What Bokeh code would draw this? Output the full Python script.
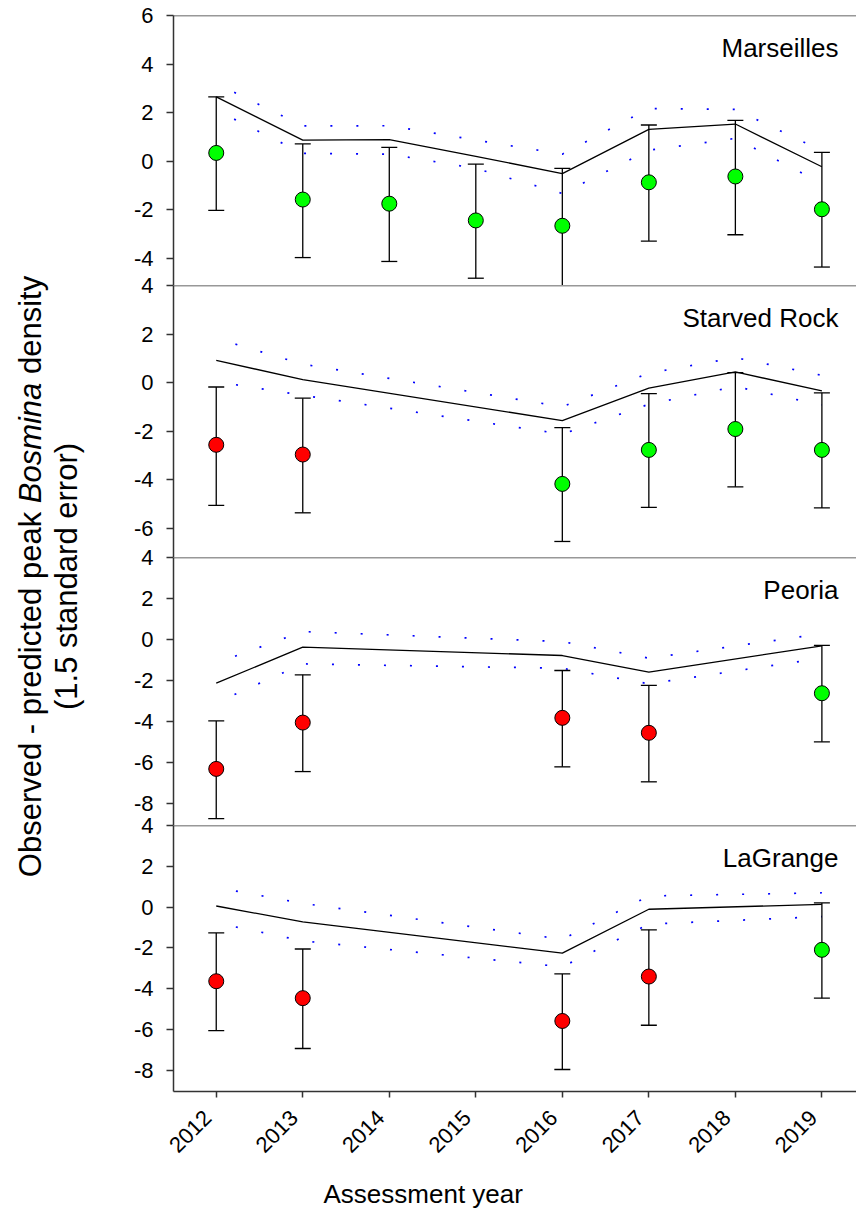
import math
from bokeh.plotting import figure
from bokeh.models import Range1d, FixedTicker, Span, Label, Title
from bokeh.layouts import column, row
from bokeh.embed import file_html
from bokeh.resources import INLINE

FONT = "Liberation Sans"

# ---------------- data ----------------
sites = ["Marseilles", "Starved Rock", "Peoria", "LaGrange"]
tick_years = [2012, 2013, 2014, 2015, 2016, 2017, 2018, 2019]

mars_years = [2012, 2013, 2014, 2015, 2016, 2017, 2018, 2019]
mars_obs = [0.34, -1.58, -1.75, -2.44, -2.66, -0.87, -0.63, -1.98]
mars_hi = [2.65, 0.71, 0.57, -0.12, -0.30, 1.49, 1.68, 0.36]
mars_lo = [-2.03, -3.97, -4.13, -4.82, -5.15, -3.29, -3.03, -4.36]
mars_pred = [2.65, 0.87, 0.89, 0.20, -0.51, 1.31, 1.53, -0.23]
mars_upper = [3.20, 1.45, 1.46, 0.87, 0.29, 2.17, 2.13, 0.43]
mars_lower = [2.10, 0.32, 0.29, -0.30, -1.33, 0.45, 0.94, -0.92]
mars_status = ["in", "in", "in", "in", "in", "in", "in", "in"]

star_years = [2012, 2013, 2016, 2017, 2018, 2019]
star_obs = [-2.56, -2.96, -4.17, -2.77, -1.91, -2.77]
star_hi = [-0.18, -0.64, -1.85, -0.45, 0.41, -0.42]
star_lo = [-5.05, -5.36, -6.54, -5.14, -4.29, -5.16]
star_pred = [0.92, 0.12, -1.56, -0.23, 0.44, -0.34]
star_upper = [1.82, 0.76, -0.99, 0.39, 1.03, 0.30]
star_lower = [0.04, -0.52, -2.12, -0.89, -0.16, -0.92]
star_status = ["out", "out", "in", "in", "in", "in"]

peor_years = [2012, 2013, 2016, 2017, 2019]
peor_obs = [-6.31, -4.05, -3.82, -4.55, -2.62]
peor_hi = [-3.97, -1.72, -1.51, -2.24, -0.29]
peor_lo = [-8.73, -6.44, -6.21, -6.94, -4.99]
peor_pred = [-2.13, -0.37, -0.78, -1.59, -0.31]
peor_upper = [-1.15, 0.39, -0.10, -0.91, 0.28]
peor_lower = [-3.08, -1.19, -1.40, -2.16, -0.91]
peor_status = ["out", "out", "out", "out", "in"]

lagr_years = [2012, 2013, 2016, 2017, 2019]
lagr_obs = [-3.64, -4.47, -5.59, -3.41, -2.10]
lagr_hi = [-1.27, -2.06, -3.28, -1.12, 0.20]
lagr_lo = [-6.06, -6.94, -7.97, -5.80, -4.47]
lagr_pred = [0.05, -0.73, -2.26, -0.11, 0.13]
lagr_upper = [0.96, 0.18, -1.58, 0.54, 0.70]
lagr_lower = [-0.78, -1.66, -2.93, -0.84, -0.47]
lagr_status = ["out", "out", "out", "out", "in"]

y_ticks = [[-4, -2, 0, 2, 4, 6], [-6, -4, -2, 0, 2, 4],
           [-8, -6, -4, -2, 0, 2, 4], [-8, -6, -4, -2, 0, 2, 4]]

# ---------------- layout / style ----------------
panels_data = [
    (mars_years, mars_obs, mars_hi, mars_lo, mars_pred, mars_upper, mars_lower, mars_status),
    (star_years, star_obs, star_hi, star_lo, star_pred, star_upper, star_lower, star_status),
    (peor_years, peor_obs, peor_hi, peor_lo, peor_pred, peor_upper, peor_lower, peor_status),
    (lagr_years, lagr_obs, lagr_hi, lagr_lo, lagr_pred, lagr_upper, lagr_lower, lagr_status),
]
y_bounds = [(-5.12, 6), (-7.2, 4), (-9.07, 4), (-9.05, 4)]
frame_h = [270, 272, 268, 268]
X_START, X_END = 2011.506, 2019.40
STATUS_COLOR = {"in": "#00ff00", "out": "#ff0000"}
AXIS_COLOR = "#333333"
OVERLAP = 12
LAB_W = 98
LEFT_BORDER = 75
PANEL_W = 758
BOTTOM_BORDER = 122
NBSP = "\u00a0"

panels = []
for i, (site, d, yb, fh, ticks) in enumerate(zip(sites, panels_data, y_bounds, frame_h, y_ticks)):
    years, obs, hi, lo, pred, upper, lower, status = d
    last = i == len(sites) - 1
    top_b = 15 if i == 0 else OVERLAP
    bot_b = BOTTOM_BORDER if last else 0
    p = figure(width=PANEL_W, height=top_b + fh + bot_b,
               x_range=Range1d(X_START, X_END), y_range=Range1d(*yb),
               output_backend="svg", toolbar_location=None,
               x_axis_location="below" if last else None,
               min_border_left=LEFT_BORDER, min_border_right=0,
               min_border_top=top_b, min_border_bottom=bot_b)
    if i > 0:
        p.margin = (-OVERLAP, 0, 0, 0)
    p.border_fill_color = None
    p.background_fill_color = None
    p.outline_line_color = None
    p.grid.visible = False

    ya = p.yaxis[0]
    ya.ticker = FixedTicker(ticks=ticks)
    ya.major_label_overrides = {t: str(t) for t in ticks}
    ya.axis_line_color = AXIS_COLOR
    ya.axis_line_width = 1.5
    ya.major_tick_line_color = AXIS_COLOR
    ya.major_tick_line_width = 1.5
    ya.major_tick_out = 7
    ya.major_tick_in = 0
    ya.minor_tick_line_color = None
    ya.major_label_text_font = FONT
    ya.major_label_text_font_size = "22px"
    ya.major_label_text_color = "black"
    ya.major_label_standoff = 13

    if last:
        xa = p.xaxis[0]
        xa.ticker = FixedTicker(ticks=tick_years)
        xa.major_label_overrides = {t: str(t) + NBSP * 2 for t in tick_years}
        xa.axis_line_color = AXIS_COLOR
        xa.axis_line_width = 1.5
        xa.major_tick_line_color = AXIS_COLOR
        xa.major_tick_line_width = 1.5
        xa.major_tick_out = 6
        xa.major_tick_in = 0
        xa.minor_tick_line_color = None
        xa.major_label_orientation = math.pi / 4
        xa.major_label_text_font = FONT
        xa.major_label_text_font_size = "22px"
        xa.major_label_text_color = "black"
        xa.major_label_standoff = 8
        p.add_layout(Title(text="Assessment year", align="left", offset=150,
                           text_font=FONT, text_font_size="26px",
                           text_font_style="normal", text_color="black",
                           standoff=14), "below")

    # panel top separator
    p.add_layout(Span(location=yb[1], dimension="width",
                      line_color=AXIS_COLOR, line_width=1.5))

    # predicted line and confidence band
    p.line(years, upper, line_color="#0000ff", line_width=1.7,
           line_dash="2 24", line_dash_offset=6)
    p.line(years, lower, line_color="#0000ff", line_width=1.7,
           line_dash="2 24", line_dash_offset=6)
    p.line(years, pred, line_color="black", line_width=1.3)

    # error bars
    p.segment(x0=years, y0=lo, x1=years, y1=hi, line_color="black", line_width=1.3)
    p.scatter(years, hi, marker="dash", size=16, line_color="black", line_width=1.3)
    p.scatter(years, lo, marker="dash", size=16, line_color="black", line_width=1.3)

    # observations
    p.scatter(years, obs, size=15, fill_color=[STATUS_COLOR[s] for s in status],
              line_color="black", line_width=1)

    p.add_layout(Label(x=X_END, y=yb[1], x_offset=-18, y_offset=-32, text=site,
                       text_align="right", text_baseline="middle",
                       text_font=FONT, text_font_size="26px", text_color="black"))
    panels.append(p)

total_h = sum(pp.height for pp in panels) - OVERLAP * (len(panels) - 1)

# ---------------- y-axis title (rich text: italic Bosmina) ----------------
lab = figure(width=LAB_W, height=total_h, x_range=Range1d(0, LAB_W),
             y_range=Range1d(0, total_h), output_backend="svg",
             toolbar_location=None, min_border=0,
             x_axis_location=None, y_axis_location=None)
lab.grid.visible = False
lab.outline_line_color = None
lab.border_fill_color = None
lab.background_fill_color = None

YF = 31
seg_em = [11.783, 3.890, 3.168]   # "Observed - predicted peak", "Bosmina", "density"
space_em = 0.278
line_len = (sum(seg_em) + 2 * space_em) * YF
center_y = total_h - 576
y0 = center_y - line_len / 2
texts = ["Observed - predicted peak", "Bosmina", "density"]
styles = ["normal", "italic", "normal"]
pos = y0
for t, st, em in zip(texts, styles, seg_em):
    lab.add_layout(Label(x=30, y=pos, text=t, angle=math.pi / 2,
                         text_align="left", text_baseline="middle",
                         text_font=FONT, text_font_size=f"{YF}px",
                         text_font_style=st, text_color="black"))
    pos += (em + space_em) * YF
lab.add_layout(Label(x=66, y=center_y, text="(1.5 standard error)", angle=math.pi / 2,
                     text_align="center", text_baseline="middle",
                     text_font=FONT, text_font_size=f"{YF}px", text_color="black"))

layout = row(lab, column(*panels))
open("out.html", "w").write(file_html(layout, INLINE))
